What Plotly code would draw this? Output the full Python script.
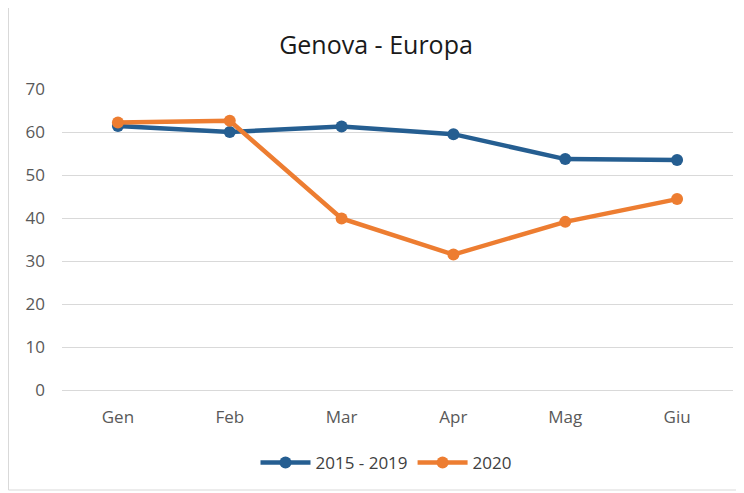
import plotly.graph_objects as go

months = ["Gen", "Feb", "Mar", "Apr", "Mag", "Giu"]
series_2015_2019 = [61.4, 60.0, 61.3, 59.5, 53.7, 53.5]
series_2020 = [62.2, 62.6, 39.9, 31.5, 39.1, 44.4]

OFF = 8  # page body margin
W, H = 744 - OFF, 493 - OFF
L, T = 62 - OFF, 89 - OFF
pw, ph = 671, 301
R, B = W - L - pw, H - T - ph

fig = go.Figure()
fig.add_trace(go.Scatter(x=months, y=series_2015_2019, name="2015 - 2019",
                         mode="lines+markers",
                         line=dict(color="#255E91", width=4.5),
                         marker=dict(size=12, color="#255E91")))
fig.add_trace(go.Scatter(x=months, y=series_2020, name="2020",
                         mode="lines+markers",
                         line=dict(color="#ED7D31", width=4.5),
                         marker=dict(size=12, color="#ED7D31")))

def px_x(p):  # reference screenshot px -> paper
    return (p - OFF - L) / pw

def px_y(p):
    return (H - B - (p - OFF)) / ph

FONT = "Open Sans"
fig.update_layout(
    width=W, height=H,
    margin=dict(l=L, r=R, t=T, b=B),
    paper_bgcolor="white", plot_bgcolor="white",
    font=dict(family=FONT, size=17, color="#595959"),
    title=dict(text="Genova - Europa", x=0.5, xanchor="center",
               y=1 - (45 - OFF) / H, yanchor="middle",
               font=dict(family=FONT, size=25, color="#1a1a1a")),
    xaxis=dict(range=[-0.5, 5.5], showgrid=False, showline=True, linecolor="#D9D9D9", linewidth=1,
               ticks="", ticklabelstandoff=12, tickfont=dict(size=17, color="#595959"),
               fixedrange=True),
    yaxis=dict(range=[0, 70], dtick=10, showgrid=True, gridcolor="#D9D9D9", gridwidth=1,
               zeroline=False, showline=False, ticks="", ticklabelstandoff=16,
               tickfont=dict(size=17, color="#595959")),
    legend=dict(orientation="h", x=px_x(386), xanchor="center", y=px_y(463), yanchor="middle",
                font=dict(size=17, color="#404040"), itemwidth=50),
    shapes=[dict(type="rect", xref="paper", yref="paper",
                 x0=px_x(8.5), x1=px_x(741), y0=px_y(490), y1=px_y(7.5),
                 line=dict(color="#D9D9D9", width=1), layer="below")],
)

fig.write_html("out.html")
